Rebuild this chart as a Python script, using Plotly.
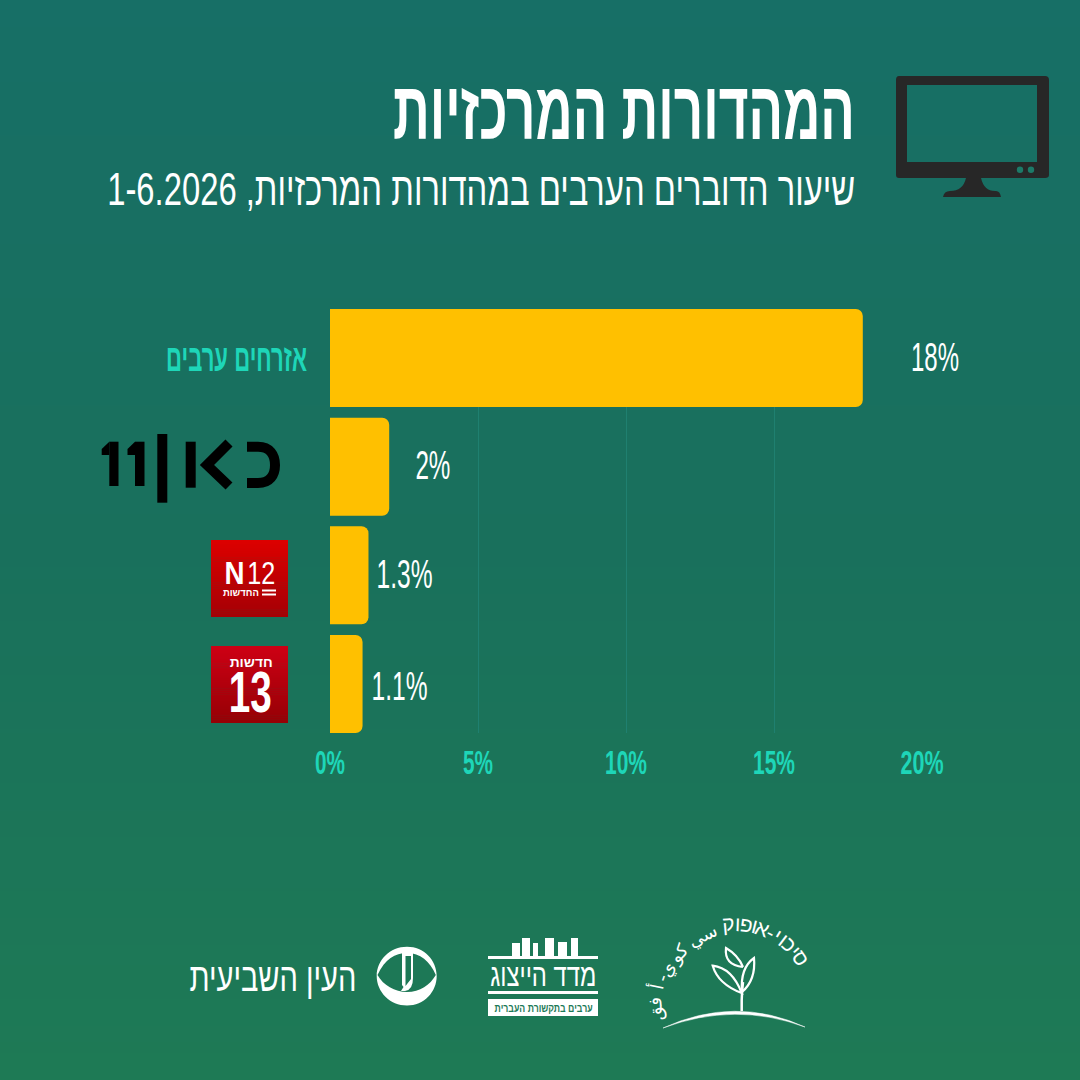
import json

import numpy as np
import plotly.graph_objects as go

# chart data
categories = ['אזרחים ערבים', 'כאן 11', 'N12', 'חדשות 13']
values = [18, 2, 1.3, 1.1]
value_labels = ['18%', '2%', '1.3%', '1.1%']
tick_vals = [0, 5, 10, 15, 20]
tick_text = ['0%', '5%', '10%', '15%', '20%']
axis_labels = ['אזרחים ערבים', '', '', '']

title_text = 'המהדורות המרכזיות'
subtitle_text = 'שיעור הדוברים הערבים במהדורות המרכזיות, 1-6.2026'

W = 1080
H = 1080
SANS = 'Liberation Sans, sans-serif'
TEAL = '#1ed6b8'
WHITE = '#ffffff'

# no condensed hebrew font here, so these texts get squeezed to their width in the reference
squeeze = {
    title_text: 462, subtitle_text: 748, 'אזרחים ערבים': 141,
    '0%': 30, '5%': 30, '10%': 42, '15%': 42, '20%': 43,
    '18%': 48, '2%': 35, '1.3%': 56, '1.1%': 56,
    'העין השביעית': 167, 'מדד הייצוג': 106, 'ערבים בתקשורת העברית': 98,
    '13': 43, 'N': 20, '12': 28, 'החדשות': 36, 'חדשות': 43,
}

shapes = []
annotations = []


def path(d):
    """d is a list of commands in page pixels, e.g. [('M', 10, 20), ('L', 30, 40)]"""
    out = []
    for c in d:
        pts = [f'{c[i]},{c[i + 1]}' for i in range(1, len(c), 2)]
        out.append(c[0] + ' '.join(pts))
    return ' '.join(out)


def add_rect(x0, y0, x1, y1, color):
    shapes.append(dict(type='rect', xref='x', yref='y', layer='above', x0=x0, x1=x1, y0=y0, y1=y1,
                       fillcolor=color, line_width=0))


def add_path(d, color=None, stroke=None, width=0):
    shapes.append(dict(type='path', xref='x', yref='y', layer='above', path=path(d),
                       fillcolor=color if color else 'rgba(0,0,0,0)',
                       line=dict(color=stroke if stroke else 'rgba(0,0,0,0)', width=width)))


def add_text(x, y, text, size, color=WHITE, family=SANS, angle=0, weight=400):
    annotations.append(dict(xref='x', yref='y', x=x, y=y, text=text, showarrow=False,
                            xanchor='center', yanchor='middle', textangle=angle,
                            font=dict(size=size, color=color, family=family, weight=weight)))


def mix(c0, c1, t):
    return 'rgb(%d,%d,%d)' % tuple(round(a + (b - a) * t) for a, b in zip(c0, c1))


def gradient_rect(x0, y0, x1, y1, c0, c1, steps=40):
    edges = np.linspace(y0, y1, steps + 1)
    for i in range(steps):
        add_rect(x0, edges[i], x1, min(edges[i + 1] + 0.5, y1), mix(c0, c1, i / (steps - 1)))


# monitor icon
dark = '#272727'
add_path([('M', 899, 76), ('L', 1045, 76), ('Q', 1049, 76, 1049, 80), ('L', 1049, 175),
          ('Q', 1049, 178, 1045, 178), ('L', 899, 178), ('Q', 896, 178, 896, 175), ('L', 896, 80),
          ('Q', 896, 76, 899, 76), ('Z',),
          ('M', 907, 85), ('L', 907, 162), ('L', 1037, 162), ('L', 1037, 85), ('Z',)], color=dark)
add_path([('M', 966, 178), ('L', 981, 178), ('Q', 984, 191, 995, 191), ('L', 996, 191),
          ('Q', 1000, 191, 1001, 197), ('L', 943, 197), ('Q', 944, 191, 950, 191),
          ('Q', 963, 191, 966, 178), ('Z',)], color=dark)
for dot_x in (1020, 1031):
    shapes.append(dict(type='circle', xref='x', yref='y', layer='above',
                       x0=dot_x - 3.2, x1=dot_x + 3.2, y0=166.5, y1=172.9,
                       fillcolor='#1c7a68', line_width=0))

# title block
add_text(624, 110, title_text, 82, weight=700)
add_text(481, 188, subtitle_text, 47)

# kan 11 logo
black = '#000000'
add_path([('M', 247, 446.7), ('L', 258, 446.7), ('C', 270, 446.7, 275, 455, 275, 465),
          ('C', 275, 475, 270, 483, 258, 483), ('L', 247, 483)], stroke=black, width=10)
add_rect(185.7, 441.7, 195.7, 487.7, black)
add_path([('M', 229, 443), ('L', 207, 465), ('L', 229, 486)], stroke=black, width=10)
add_rect(157.3, 434, 167.3, 502.7, black)
add_rect(135, 441.7, 144.5, 486, black)
add_path([('M', 135, 441.7), ('L', 127.5, 449), ('L', 127.5, 455), ('L', 135, 455), ('Z',)], color=black)
add_rect(109.3, 441.7, 118.5, 486, black)
add_path([('M', 109.3, 441.7), ('L', 101.7, 449), ('L', 101.7, 455), ('L', 109.3, 455), ('Z',)], color=black)

# n12 logo
gradient_rect(211, 540, 288, 617, (220, 0, 0), (165, 0, 5))
add_text(234, 573, 'N', 32, weight=700)
add_text(261, 573, '12', 31)
add_text(241, 592, 'החדשות', 10, weight=700)
add_rect(262, 589.5, 276, 591.5, WHITE)
add_rect(262, 593.5, 276, 595.5, WHITE)

# channel 13 logo
gradient_rect(211, 646, 288, 723, (205, 0, 20), (150, 0, 5))
add_text(250.5, 662.5, 'חדשות', 13, weight=700)
add_text(250.5, 691, '13', 58, weight=700)

# footer: seventh eye
add_text(273, 977, 'העין השביעית', 40)
add_path([('M', 376.7, 976), ('C', 376.7, 960, 390, 946.7, 407, 946.7), ('C', 424, 946.7, 436.7, 960, 436.7, 976),
          ('C', 436.7, 992, 424, 1005.5, 407, 1005.5), ('C', 390, 1005.5, 376.7, 992, 376.7, 976), ('Z',),
          ('M', 377.5, 975), ('C', 383, 985, 395, 992, 407, 992), ('C', 420, 992, 430, 985, 435.8, 975),
          ('C', 430, 961, 420, 953, 407, 953), ('C', 395, 953, 385, 959, 377.5, 975), ('Z',)], color=WHITE)
add_path([('M', 402, 953), ('L', 413, 953), ('L', 413, 978), ('Q', 413, 990, 405, 991), ('L', 401, 991),
          ('L', 403.5, 987), ('L', 402, 985), ('Z',),
          ('M', 405.5, 956), ('L', 405.5, 986), ('L', 411, 979), ('L', 411, 956), ('Z',)], color=WHITE)

# footer: hitzug index
for x0, x1, top in [(512, 520, 943), (522, 530, 938), (533, 538, 943), (545, 554, 938),
                    (558, 567, 942), (571, 578, 938)]:
    add_rect(x0, top, x1, 957, WHITE)
add_rect(488, 956, 598, 959, WHITE)
add_text(543, 975, 'מדד הייצוג', 32)
add_rect(488, 991, 598, 994, WHITE)
add_rect(488, 999, 598, 1016, WHITE)
add_text(543, 1008, 'ערבים בתקשורת העברית', 11.5, color='#1d7a58', weight=700)

# footer: sikkuy-aufoq, lettering runs along an arc
arc_x, arc_y = 735, 1003
heb = ['ס', 'י', 'כ', 'ו', 'י', '-', 'א', 'ו', 'פ', 'ו', 'ק']
heb_angles = [34, 41, 47, 53, 58, 63, 70, 76, 82, 88, 95]
arab = ['سي', 'كو', 'ي', '-', 'أ', 'فق']
arab_angles = [116, 139, 154, 161, 168, 184]
arab_radius = [74, 75, 76, 77, 80, 80]
for ch, a in zip(heb, heb_angles):
    t = np.radians(a)
    add_text(arc_x + 80 * np.cos(t), arc_y - 80 * np.sin(t), ch, 21, angle=90 - a,
             family='Noto Sans, Liberation Sans, sans-serif')
for ch, a, r in zip(arab, arab_angles, arab_radius):
    t = np.radians(a)
    add_text(arc_x + r * np.cos(t), arc_y - r * np.sin(t), ch, 18, angle=90 - a,
             family='DejaVu Sans, sans-serif')

# plant + hill
add_path([('M', 663, 1028), ('Q', 735, 995, 805, 1027), ('Q', 735, 1001, 663, 1028), ('Z',)],
         color=WHITE, stroke=WHITE, width=0.5)
add_path([('M', 741.7, 1011), ('L', 741.7, 1000), ('Q', 742, 990, 743, 982)], stroke=WHITE, width=2.5)
add_path([('M', 741.7, 993), ('Q', 718, 984, 712.7, 965.7), ('Q', 732, 968, 741.7, 993), ('Z',)], stroke=WHITE, width=2.2)
add_path([('M', 743, 967), ('Q', 724, 965, 726, 948), ('Q', 738, 955, 743, 967)], stroke=WHITE, width=2.2)
add_path([('M', 742, 992), ('Q', 740, 968, 754, 958), ('Q', 756, 980, 742, 992), ('Z',)], stroke=WHITE, width=2.2)

fig = go.Figure()

# page background, the x/y axes are simply the page in pixels
fig.add_trace(go.Heatmap(x=[0, W], y=[0, H / 2, H], z=[[0, 0], [0.5, 0.5], [1, 1]], zsmooth='best',
                         zmin=0, zmax=1, showscale=False, hoverinfo='skip',
                         colorscale=[[0, '#176f66'], [0.5, '#19705c'], [1, '#1e7a55']]))

# bars
fig.add_trace(go.Bar(x=values, y=categories, orientation='h', marker_color='#ffc000', marker_line_width=0,
                     showlegend=False, xaxis='x2', yaxis='y2'))

label_center = [72, 44, 36, 37]
label_lift = [1, 2, 1, -2]
for v, lab, c, s, up in zip(values, value_labels, categories, label_center, label_lift):
    annotations.append(dict(xref='x2', yref='y2', x=v, y=c, text=lab, showarrow=False, xanchor='center',
                            xshift=s, yshift=up, font=dict(size=40, color=WHITE, family=SANS)))

fig.update_layout(
    width=W, height=H, margin=dict(l=0, r=0, t=0, b=0, pad=0), autosize=False,
    paper_bgcolor='#1a7560', plot_bgcolor='rgba(0,0,0,0)',
    bargap=0.098, barcornerradius=7, showlegend=False,
    shapes=shapes, annotations=annotations,
    xaxis=dict(domain=[0, 1], range=[0, W], visible=False, automargin=False),
    yaxis=dict(domain=[0, 1], range=[H, 0], visible=False, automargin=False),
    xaxis2=dict(domain=[330 / W, 922 / W], range=[0, 20], anchor='y2', tickvals=tick_vals, ticktext=tick_text,
                showgrid=True, gridcolor='#1f8070', gridwidth=1, zeroline=False, showline=False, ticks='',
                automargin=False,
                tickfont=dict(size=34, color=TEAL, family=SANS, weight=700), ticklabelstandoff=6),
    yaxis2=dict(domain=[1 - 733 / H, 1 - 309 / H], range=[3.451, -0.451], type='category', anchor='x2',
                categoryorder='array', categoryarray=categories, automargin=False,
                tickvals=categories, ticktext=axis_labels, showgrid=False, zeroline=False, showline=False,
                ticks='', tickfont=dict(size=38, color=TEAL, family=SANS, weight=700), ticklabelstandoff=22),
)

post = """
document.body.style.margin = '0';
var squeeze = %s;
function applySqueeze() {
    document.querySelectorAll('svg text').forEach(function (el) {
        var w = squeeze[el.textContent];
        if (w) {
            el.setAttribute('textLength', w);
            el.setAttribute('lengthAdjust', 'spacingAndGlyphs');
        }
    });
}
applySqueeze();
var gd = document.getElementById('{plot_id}');
gd.on('plotly_afterplot', applySqueeze);
""" % json.dumps(squeeze, ensure_ascii=False)

fig.write_html('out.html', post_script=post, config=dict(displayModeBar=False))
